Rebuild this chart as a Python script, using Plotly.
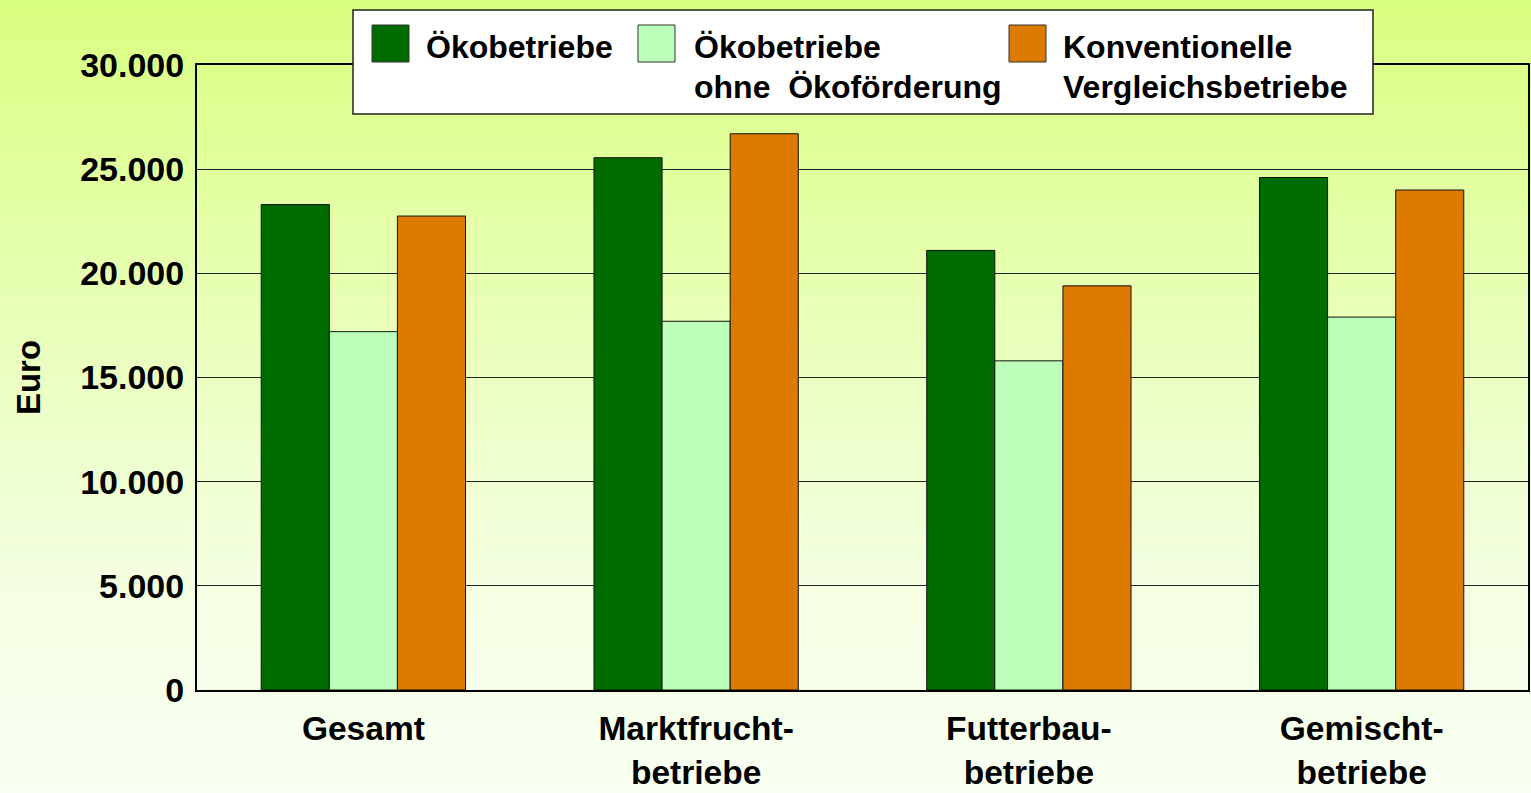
import plotly.graph_objects as go

# ---------------- data ----------------
categories = ["Gesamt", "Marktfrucht-<br>betriebe", "Futterbau-<br>betriebe", "Gemischt-<br>betriebe"]
oeko = [23300, 25550, 21100, 24600]
oeko_ohne = [17200, 17700, 15800, 17900]
konv = [22750, 26700, 19400, 24000]
series_names = ["Ökobetriebe", "Ökobetriebe<br>ohne\u00a0 Ökoförderung", "Konventionelle<br>Vergleichsbetriebe"]
series_colors = ["#006c00", "#bbffbb", "#dd7b00"]
y_ticks = [0, 5000, 10000, 15000, 20000, 25000, 30000]

W, H = 1531, 793
L, R, T, B = 197, 3, 65, 103
PW, PH = W - L - R, H - T - B

def px(x):
    return (x - L) / PW

def py(y):
    return (H - B - y) / PH

fig = go.Figure()
for name, vals, col in zip(series_names, [oeko, oeko_ohne, konv], series_colors):
    fig.add_trace(go.Bar(
        x=categories, y=vals, name=name.replace("<br>", " "),
        marker=dict(color=col, line=dict(color="#111111", width=1)),
        showlegend=False,
    ))

shapes = []
# background gradient bands
stops = [(0, (0xd9, 0xff, 0x80)), (200, (0xe3, 0xff, 0xa3)), (400, (0xec, 0xff, 0xc6)),
         (600, (0xf4, 0xff, 0xe3)), (793, (0xf8, 0xff, 0xf2))]

def col_at(y):
    for (y0, c0), (y1, c1) in zip(stops[:-1], stops[1:]):
        if y0 <= y <= y1:
            t = (y - y0) / (y1 - y0)
            return "rgb(%d,%d,%d)" % tuple(round(a + (b - a) * t) for a, b in zip(c0, c1))
    return "rgb(%d,%d,%d)" % stops[-1][1]

n = 120
for i in range(n):
    y0 = H * i / n
    y1 = H * (i + 1) / n + 0.8
    shapes.append(dict(type="rect", xref="paper", yref="paper", layer="below",
                       x0=px(0), x1=px(W), y0=py(y1), y1=py(y0),
                       fillcolor=col_at((y0 + y1) / 2), line=dict(width=0)))

# legend box
shapes.append(dict(type="rect", xref="paper", yref="paper", layer="above",
                   x0=px(353), x1=px(1373), y0=py(114), y1=py(10),
                   fillcolor="white", line=dict(color="#222222", width=1.5)))
sw_x = [372, 638, 1009]
txt_x = [424, 692, 1061]
annotations = []
for i in range(3):
    shapes.append(dict(type="rect", xref="paper", yref="paper", layer="above",
                       x0=px(sw_x[i]), x1=px(sw_x[i] + 37), y0=py(62), y1=py(25),
                       fillcolor=series_colors[i], line=dict(color="#333333", width=1)))
    lines = series_names[i].split("<br>")
    for j, ln in enumerate(lines):
        annotations.append(dict(xref="paper", yref="paper", x=px(txt_x[i]), y=py(47 + 40 * j),
                                xanchor="left", yanchor="middle", showarrow=False, text=ln,
                                font=dict(family="Liberation Sans, Arial", size=32, color="black")))

fig.update_layout(
    width=W, height=H,
    margin=dict(l=L, r=R, t=T, b=B, pad=0),
    paper_bgcolor="#f8fff2", plot_bgcolor="rgba(0,0,0,0)",
    barmode="group", bargap=0.386, bargroupgap=0,
    separators=",.",
    font=dict(family="Liberation Sans, Arial", size=34, color="black", weight="bold"),
    shapes=shapes, annotations=annotations,
    showlegend=False,
)
fig.update_xaxes(showline=True, mirror=True, linecolor="black", linewidth=2,
                 showgrid=False, ticks="", ticklabelstandoff=8, automargin=False,
                 tickfont=dict(size=33.5, weight="bold"))
fig.update_yaxes(range=[0, 30000], tickvals=y_ticks, tickformat=",d",
                 showline=True, mirror=True, linecolor="black", linewidth=2,
                 showgrid=True, gridcolor="#222222", gridwidth=1, zeroline=False,
                 ticks="", ticklabelstandoff=4, automargin=False,
                 tickfont=dict(size=34, weight="bold"),
                 title=dict(text="Euro", standoff=30, font=dict(size=33, weight="bold")))

fig.write_html("out.html", config={"displayModeBar": False},
               post_script="document.body.style.margin='0';document.body.style.overflow='hidden';")
